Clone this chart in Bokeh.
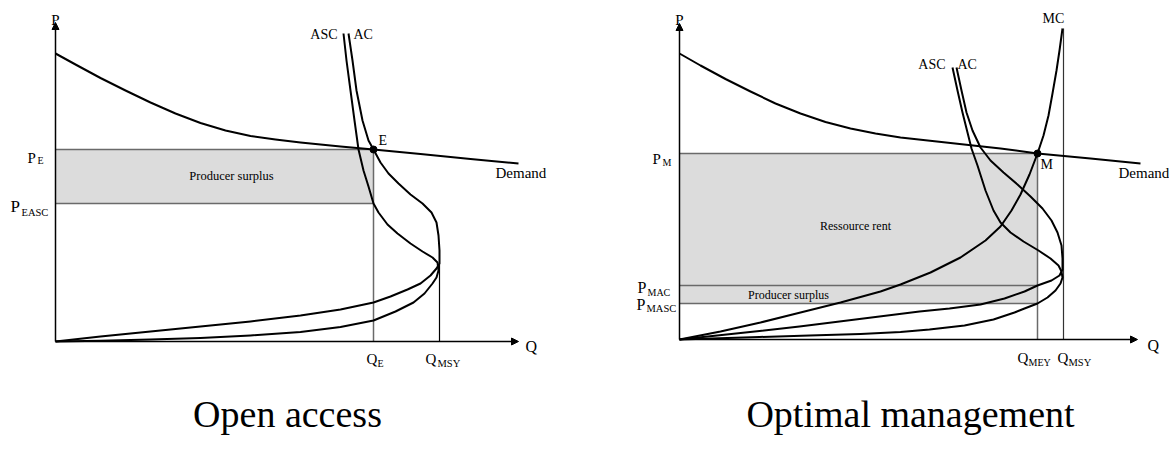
from bokeh.plotting import figure
from bokeh.models import Range1d, Arrow, NormalHead, Label
from bokeh.layouts import row
from bokeh.embed import file_html
from bokeh.resources import INLINE

FONT = "Liberation Serif"
FILL = "#dcdcdc"
GUIDE = "#6a6a6a"

# ---------------- Open access (quantity Q, price P) ----------------
oa_demand_q = [0, 20, 45, 70, 95, 120, 145, 170, 195, 220, 245, 285, 318, 365, 415, 463]
oa_demand_p = [288, 277, 263.5, 251, 239, 228, 218.5, 211, 205.5, 202, 199, 195, 192,
               187.5, 182.5, 178]

oa_asc_q = [288, 291, 295, 299, 303, 308, 313, 318, 323, 332, 342, 355, 367, 377, 382,
            383, 381, 377, 369, 358, 340, 318, 285, 245, 195, 145, 95, 45, 0]
oa_asc_p = [308, 281, 251, 221, 192, 171, 155, 138, 129, 117, 108, 98, 90, 84, 79,
            71, 64, 58, 48, 39, 30, 21, 14.5, 9.5, 6, 3.5, 2, 0.8, 0]

oa_ac_q = [293, 297, 301, 307, 313, 318, 325, 333, 343, 355, 367, 376, 381, 383, 384, 384,
           381, 375, 365, 352, 335, 318, 285, 245, 195, 145, 95, 45, 0]
oa_ac_p = [308, 281, 251, 221, 201, 192, 179, 168, 158, 147, 138, 129, 119, 106, 91, 78,
           73, 66, 58, 52, 45, 39, 32, 26, 20, 15, 10, 5, 0]

OA_Q_E, OA_Q_MSY = 318, 384
OA_P_E, OA_P_EASC = 192, 138
OA_Q_AXIS, OA_P_AXIS = 463, 319

# ---------------- Optimal management ----------------
om_demand_q = [0, 21, 46, 71, 96, 121, 146, 171, 196, 221, 271, 321, 358, 411, 461]
om_demand_p = [286, 274, 260.5, 248, 236, 226, 217.5, 211, 206, 202, 196.5, 191, 186,
               181, 176]

om_asc_q = [273, 278, 283, 288, 292, 298, 306, 314, 321, 331, 344, 359, 371, 379, 382,
            383, 381, 376, 368, 358, 345, 335, 314, 285, 250, 221, 181, 130, 80, 40, 0]
om_asc_p = [272, 249, 227, 207, 191, 174, 149, 129, 117, 107, 98, 89, 81, 74, 68,
            62, 56, 49, 42, 36, 31, 27, 20, 14, 10, 7.5, 5.5, 4, 2.5, 1.2, 0]

om_ac_q = [277, 282, 287, 293, 301, 311, 324, 338, 351, 363, 372, 378, 382, 383, 383,
           380, 372, 358, 345, 325, 301, 270, 240, 200, 160, 120, 80, 40, 0]
om_ac_p = [272, 249, 227, 209, 192, 179, 167, 155, 143, 131, 119, 107, 94, 81, 70,
           64, 59, 54, 48, 41, 35, 31, 28, 23, 18, 13, 8.5, 4.2, 0]

om_mc_q = [0, 41, 81, 121, 161, 201, 221, 251, 281, 306, 321, 332, 341, 350, 358,
           364, 369, 373, 377, 380, 383]
om_mc_p = [0, 8, 17, 27, 37, 48, 55, 67, 82, 99, 113, 129, 145, 165, 186,
           204, 224, 246, 269, 289, 311]

OM_Q_MEY, OM_Q_MSY = 358, 384
OM_P_M, OM_P_MAC, OM_P_MASC = 186, 54, 36
OM_Q_AXIS, OM_P_AXIS, OM_MSY_TOP = 458, 316, 311


def make_panel(x_lo, x_hi, y_lo, y_hi):
    p = figure(width=x_hi - x_lo, height=y_hi - y_lo,
               x_range=Range1d(x_lo, x_hi), y_range=Range1d(y_lo, y_hi),
               output_backend="svg", toolbar_location=None,
               x_axis_location=None, y_axis_location=None, min_border=0)
    p.grid.visible = False
    p.outline_line_color = None
    p.background_fill_color = "white"
    p.border_fill_color = "white"
    return p


def tag(p, x, y, text, size, align="left", baseline="alphabetic"):
    p.add_layout(Label(x=x, y=y, text=text, text_font=FONT,
                       text_font_size=f"{size}px", text_align=align,
                       text_baseline=baseline, text_color="black"))


def axes(p, q_end, p_end):
    for xe, ye in ((q_end, 0), (0, p_end)):
        p.add_layout(Arrow(end=NormalHead(size=7, fill_color="black", line_color="black"),
                           x_start=0, y_start=0, x_end=xe, y_end=ye,
                           line_color="black", line_width=1.5))


def curve(p, q, v):
    p.line(q, v, line_color="black", line_width=2, line_join="round")


# ---- left panel ----
left = make_panel(-55, 529, -118, 341)
left.quad(left=0, right=OA_Q_E, bottom=OA_P_EASC, top=OA_P_E,
          fill_color=FILL, line_color=None)
left.line([0, OA_Q_E], [OA_P_E, OA_P_E], line_color=GUIDE, line_width=1.5)
left.line([0, OA_Q_E], [OA_P_EASC, OA_P_EASC], line_color=GUIDE, line_width=1.5)
left.line([OA_Q_E, OA_Q_E], [0, OA_P_E], line_color=GUIDE, line_width=1.5)
left.line([OA_Q_MSY, OA_Q_MSY], [0, oa_ac_p[15]], line_color="black", line_width=1.2)
curve(left, oa_demand_q, oa_demand_p)
curve(left, oa_asc_q, oa_asc_p)
curve(left, oa_ac_q, oa_ac_p)
axes(left, OA_Q_AXIS, OA_P_AXIS)
left.scatter([OA_Q_E], [OA_P_E], size=7, color="black")

tag(left, 0, 322, "P", 15, align="center")
tag(left, 470, -5, "Q", 16)
tag(left, -28, 184, "P", 15)
tag(left, -18, 181, "E", 10)
tag(left, -45, 135, "P", 17)
tag(left, -34, 129, "EASC", 10.5)
tag(left, 176, 166, "Producer surplus", 12.5, align="center", baseline="middle")
tag(left, 282, 307, "ASC", 14, align="right", baseline="middle")
tag(left, 298, 307, "AC", 14, baseline="middle")
tag(left, 323, 201, "E", 14, baseline="middle")
tag(left, 440, 169, "Demand", 15, baseline="middle")
tag(left, 311, -17, "Q", 15)
tag(left, 322, -22, "E", 10)
tag(left, 370, -17, "Q", 15)
tag(left, 382, -22, "MSY", 10.5)
tag(left, 232, -72, "Open access", 38, align="center")

# ---- right panel ----
right = make_panel(-95, 490, -120, 339)
right.quad(left=0, right=OM_Q_MEY, bottom=OM_P_MASC, top=OM_P_M,
           fill_color=FILL, line_color=None)
for level in (OM_P_M, OM_P_MAC, OM_P_MASC):
    right.line([0, OM_Q_MEY], [level, level], line_color=GUIDE, line_width=1.5)
right.line([OM_Q_MEY, OM_Q_MEY], [0, OM_P_M], line_color=GUIDE, line_width=1.5)
right.line([OM_Q_MSY, OM_Q_MSY], [0, OM_MSY_TOP], line_color="#333333", line_width=1.2)
curve(right, om_demand_q, om_demand_p)
curve(right, om_asc_q, om_asc_p)
curve(right, om_ac_q, om_ac_p)
curve(right, om_mc_q, om_mc_p)
axes(right, OM_Q_AXIS, OM_P_AXIS)
right.scatter([OM_Q_MEY], [OM_P_M], size=7, color="black")

tag(right, 0, 320, "P", 15, align="center")
tag(right, 468, -6, "Q", 16)
tag(right, -27, 181, "P", 15)
tag(right, -17, 177, "M", 10)
tag(right, -42, 52, "P", 16)
tag(right, -32, 47, "MAC", 10)
tag(right, -43, 35, "P", 16)
tag(right, -33, 31, "MASC", 10.5)
tag(right, 176, 114, "Ressource rent", 12, align="center", baseline="middle")
tag(right, 109, 45, "Producer surplus", 12, align="center", baseline="middle")
tag(right, 266, 275, "ASC", 14, align="right", baseline="middle")
tag(right, 278, 275, "AC", 14, baseline="middle")
tag(right, 374, 321, "MC", 14, align="center", baseline="middle")
tag(right, 361, 175, "M", 14, baseline="middle")
tag(right, 439, 167, "Demand", 15, baseline="middle")
tag(right, 338, -18, "Q", 15)
tag(right, 349, -23, "MEY", 10)
tag(right, 378, -18, "Q", 15)
tag(right, 389, -23, "MSY", 10.5)
tag(right, 231, -74, "Optimal management", 38, align="center")

layout = row(left, right)
open("out.html", "w").write(file_html(layout, INLINE))
